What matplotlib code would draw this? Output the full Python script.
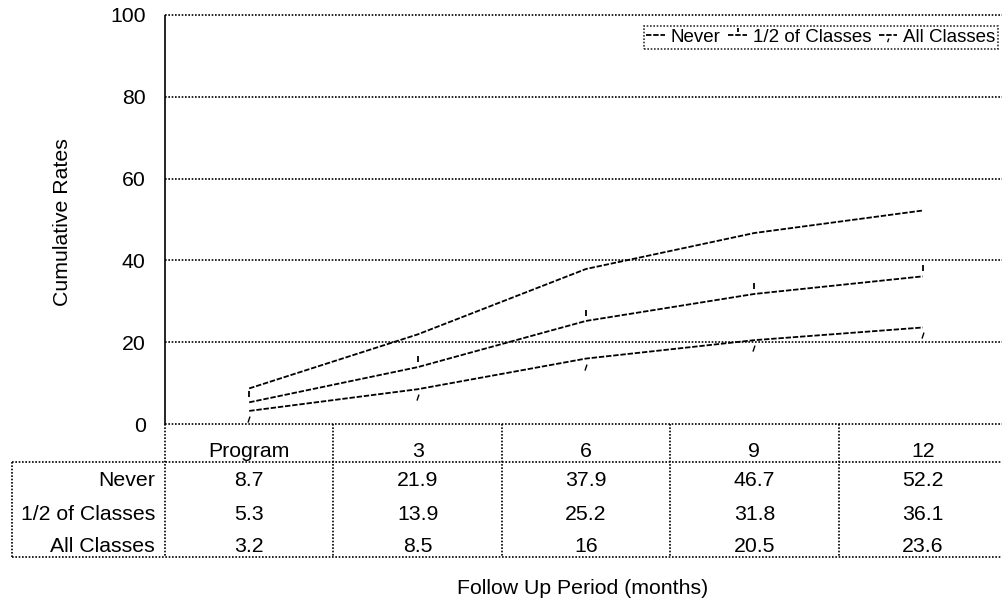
import numpy as np
import matplotlib
matplotlib.use("Agg")
import matplotlib.pyplot as plt
from matplotlib.path import Path

plt.rcParams['font.family'] = ['Liberation Sans', 'DejaVu Sans']

# datos
periodos = ['Program', '3', '6', '9', '12']
series = ['Never', '1/2 of Classes', 'All Classes']
never = [8.7, 21.9, 37.9, 46.7, 52.2]
half = [5.3, 13.9, 25.2, 31.8, 36.1]
all_classes = [3.2, 8.5, 16, 20.5, 23.6]
tabla_txt = [['8.7', '21.9', '37.9', '46.7', '52.2'],
             ['5.3', '13.9', '25.2', '31.8', '36.1'],
             ['3.2', '8.5', '16', '20.5', '23.6']]
yticks = [0, 20, 40, 60, 80, 100]

W, H = 1002, 601
fig = plt.figure(figsize=(W / 100, H / 100), dpi=100)

def px(l, t, r, b):
    return [l / W, (H - b) / H, (r - l) / W, (b - t) / H]

ax = fig.add_axes(px(165, 15, 1007, 424))
tab = fig.add_axes(px(165, 424, 1007, 557))

fs = 15.3
dash = (0, (3, 1))
dot = (0, (1, 1))

# marcadores raros desplazados
m_half = Path([(0, 5), (0, 11)])
m_all = Path([(-1.5, -11), (0.5, -5)])

x = np.arange(len(periodos))
ax.plot(x, never, color='black', lw=1.3, ls=dash, label='Never')
ax.plot(x, half, color='black', lw=1.3, ls=dash, marker=m_half, ms=16,
        mew=1.3, label='1/2 of Classes')
ax.plot(x, all_classes, color='black', lw=1.3, ls=dash, marker=m_all, ms=16,
        mew=1.0, label='All Classes')

ax.set_xlim(-0.5, 4.5)
ax.set_ylim(0, 100)
ax.set_yticks(yticks)
ax.set_xticks([])
ax.tick_params(axis='y', length=0, pad=14, labelsize=fs)
for y in yticks:
    ax.axhline(y, color='black', lw=1.2, ls=dot, clip_on=False)
for s in ['top', 'right', 'bottom']:
    ax.spines[s].set_visible(False)
ax.spines['left'].set_linestyle(dot)
ax.spines['left'].set_linewidth(1.2)

fig.text(62 / W, (H - 222) / H, 'Cumulative Rates', rotation=90,
         ha='center', va='center', fontsize=fs)

leg = ax.legend(loc='upper right', bbox_to_anchor=(998 / W, (H - 26) / H),
                bbox_transform=fig.transFigure, ncol=3, fontsize=13.5,
                frameon=True, fancybox=False, handlelength=1.0,
                handletextpad=0.3, columnspacing=0.4, borderpad=0.15,
                borderaxespad=0, markerscale=0.6)
leg.get_frame().set_edgecolor('black')
leg.get_frame().set_linestyle(dot)
leg.get_frame().set_linewidth(1.2)

# tabla de abajo
tab.set_xlim(-0.5, 4.5)
tab.set_ylim(133, 0)
tab.axis('off')
izq = -0.5 - (165 - 12) / 168.4
lk = dict(color='black', lw=1.2, ls=dot, clip_on=False)
tab.plot([-0.5, -0.5], [0, 133], **lk)
for b in [0.5, 1.5, 2.5, 3.5]:
    tab.plot([b, b], [0, 133], **lk)
tab.plot([izq, izq], [38, 133], **lk)
tab.plot([izq, 4.5], [38, 38], **lk)
tab.plot([izq, 4.5], [133, 133], **lk)
for i, p in enumerate(periodos):
    tab.text(i, 33, p, ha='center', va='baseline', fontsize=fs)
filas_y = [57, 90, 122]
for r, nombre in enumerate(series):
    tab.text(-0.5 - 10 / 168.4, filas_y[r], nombre, ha='right', va='center',
             fontsize=fs, clip_on=False)
    for i in range(len(periodos)):
        tab.text(i, filas_y[r], tabla_txt[r][i], ha='center', va='center',
                 fontsize=fs)

fig.text(583 / W, (H - 588) / H, 'Follow Up Period (months)', ha='center',
         va='center', fontsize=fs)

fig.savefig('out.png', dpi=100)
